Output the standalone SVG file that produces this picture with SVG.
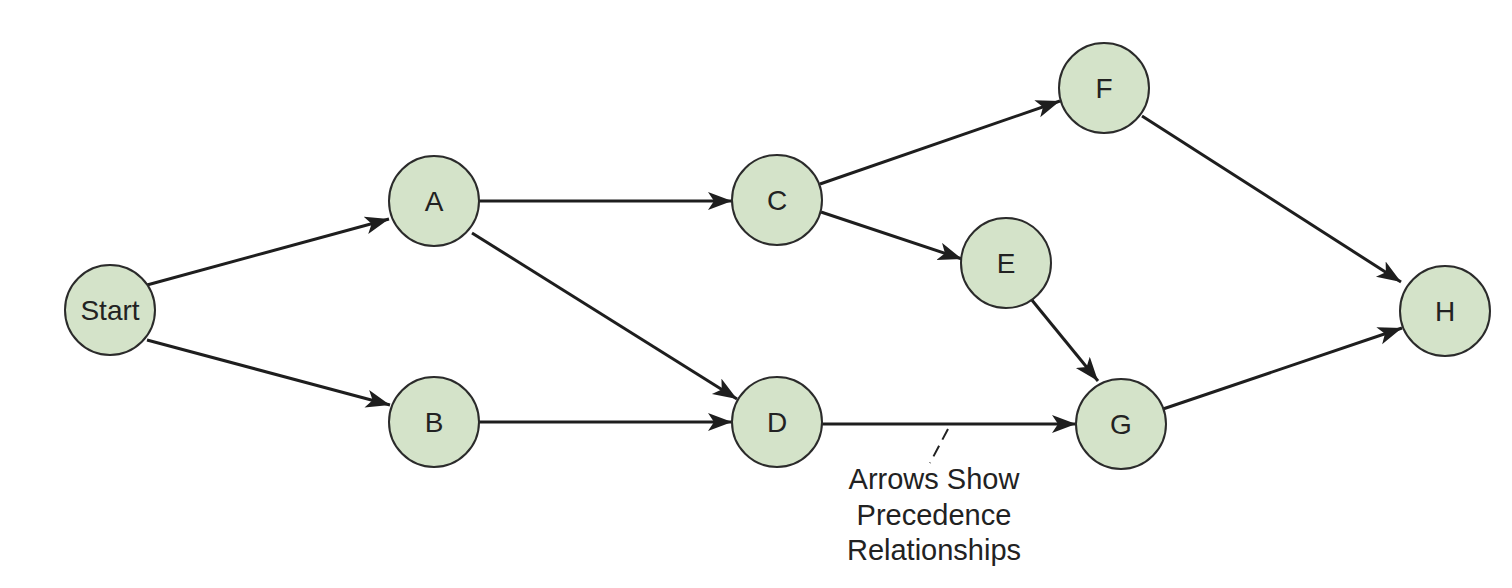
<svg xmlns="http://www.w3.org/2000/svg" width="1512" height="588" viewBox="0 0 1512 588">
<style>
.node circle{fill:#d4e3c9;stroke:#2b2b2b;stroke-width:2}
.node text{font-family:"Liberation Sans",Arial,sans-serif;font-size:28px;fill:#222;text-anchor:middle;dominant-baseline:central}
.edge{stroke:#1e1e1e;stroke-width:3;fill:none;marker-end:url(#arr)}
.note{font-family:"Liberation Sans",Arial,sans-serif;font-size:29px;fill:#222;text-anchor:middle}
</style>
<defs>
<marker id="arr" markerUnits="userSpaceOnUse" markerWidth="26" markerHeight="20" refX="24" refY="9" orient="auto">
<path d="M0,0 L24,9 L0,18 L6,9 z" fill="#1e1e1e"/>
</marker>
</defs>
<rect width="1512" height="588" fill="#fff"/>
<g id="connectors">
<line class="edge" x1="147" y1="285" x2="389" y2="219"/>
<line class="edge" x1="147" y1="340" x2="390" y2="405"/>
<line class="edge" x1="479" y1="201" x2="732" y2="201"/>
<line class="edge" x1="472" y1="233" x2="737" y2="399"/>
<line class="edge" x1="479" y1="422" x2="732" y2="422"/>
<line class="edge" x1="820" y1="184" x2="1060" y2="101"/>
<line class="edge" x1="821" y1="212" x2="962" y2="259"/>
<line class="edge" x1="822" y1="424" x2="1076" y2="424"/>
<line class="edge" x1="1031" y1="299" x2="1098" y2="381"/>
<line class="edge" x1="1142" y1="116" x2="1401" y2="282"/>
<line class="edge" x1="1163" y1="409" x2="1402" y2="328"/>
</g>
<g id="node-start" class="node"><circle cx="110" cy="310" r="45"/><text x="110" y="310">Start</text></g>
<g id="node-a" class="node"><circle cx="434" cy="201" r="45"/><text x="434" y="201">A</text></g>
<g id="node-b" class="node"><circle cx="434" cy="422" r="45"/><text x="434" y="422">B</text></g>
<g id="node-c" class="node"><circle cx="777" cy="200" r="45"/><text x="777" y="200">C</text></g>
<g id="node-d" class="node"><circle cx="777" cy="422" r="45"/><text x="777" y="422">D</text></g>
<g id="node-e" class="node"><circle cx="1006" cy="263" r="45"/><text x="1006" y="263">E</text></g>
<g id="node-f" class="node"><circle cx="1104" cy="88" r="45"/><text x="1104" y="88">F</text></g>
<g id="node-g" class="node"><circle cx="1121" cy="424" r="45"/><text x="1121" y="424">G</text></g>
<g id="node-h" class="node"><circle cx="1445" cy="311" r="45"/><text x="1445" y="311">H</text></g>
<g id="annotation">
<line x1="948" y1="429" x2="930" y2="463" stroke="#222" stroke-width="2" stroke-dasharray="12,7"/>
<text class="note" x="934" y="489">Arrows Show</text>
<text class="note" x="934" y="525">Precedence</text>
<text class="note" x="934" y="560">Relationships</text>
</g>
</svg>
